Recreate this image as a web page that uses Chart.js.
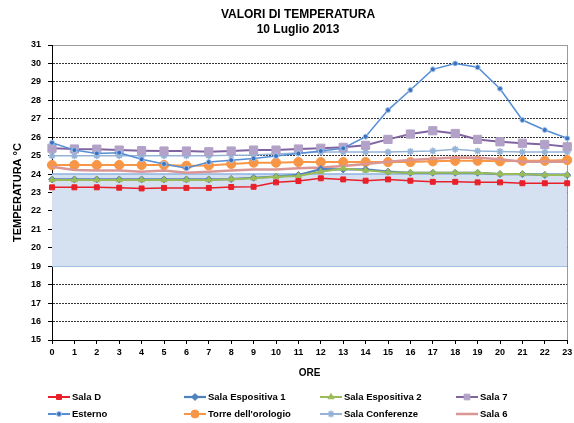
<!DOCTYPE html>
<html>
<head>
<meta charset="utf-8">
<script src="https://cdn.jsdelivr.net/npm/chart.js@4/dist/chart.umd.min.js"></script>
<style>
    html, body { margin: 0; padding: 0; background: #ffffff; }
    #wrap { width: 574px; height: 423px; }
</style>
</head>
<body>
<div id="wrap"><canvas id="tempChart" width="574" height="423"></canvas></div>
<script>
const hours = ['0','1','2','3','4','5','6','7','8','9','10','11','12','13','14','15','16','17','18','19','20','21','22','23'];

const salaD = [23.28, 23.28, 23.28, 23.26, 23.22, 23.25, 23.25, 23.25, 23.30, 23.31, 23.55, 23.62, 23.77, 23.71, 23.64, 23.71, 23.64, 23.58, 23.58, 23.55, 23.55, 23.50, 23.50, 23.50];
const salaEsp1 = [23.71, 23.71, 23.71, 23.71, 23.71, 23.71, 23.71, 23.71, 23.73, 23.80, 23.86, 23.95, 24.27, 24.25, 24.25, 24.13, 24.07, 24.07, 24.07, 24.07, 24.00, 24.00, 23.95, 23.95];
const salaEsp2 = [23.68, 23.68, 23.68, 23.68, 23.68, 23.68, 23.68, 23.68, 23.72, 23.77, 23.86, 23.90, 24.13, 24.30, 24.20, 24.10, 24.07, 24.07, 24.07, 24.07, 24.00, 24.00, 23.95, 23.95];
const sala7 = [25.40, 25.36, 25.35, 25.30, 25.27, 25.25, 25.25, 25.21, 25.25, 25.30, 25.30, 25.36, 25.40, 25.45, 25.56, 25.88, 26.17, 26.35, 26.20, 25.88, 25.75, 25.67, 25.61, 25.48];
const esterno = [25.70, 25.30, 25.12, 25.16, 24.80, 24.55, 24.31, 24.65, 24.75, 24.85, 24.98, 25.12, 25.25, 25.40, 26.03, 27.47, 28.56, 29.68, 30.00, 29.79, 28.63, 26.93, 26.39, 25.94];
const torre = [24.49, 24.49, 24.49, 24.49, 24.49, 24.49, 24.45, 24.47, 24.55, 24.62, 24.62, 24.65, 24.65, 24.65, 24.65, 24.65, 24.65, 24.69, 24.72, 24.72, 24.69, 24.72, 24.72, 24.76];
const salaConf = [25.00, 25.00, 25.00, 25.00, 25.00, 25.00, 25.00, 25.00, 25.02, 25.03, 25.09, 25.14, 25.20, 25.20, 25.20, 25.20, 25.23, 25.25, 25.34, 25.25, 25.23, 25.20, 25.20, 25.20];
const sala6 = [24.40, 24.22, 24.19, 24.19, 24.13, 24.19, 24.07, 24.13, 24.19, 24.25, 24.25, 24.31, 24.36, 24.44, 24.55, 24.67, 24.76, 24.83, 24.90, 24.88, 24.80, 24.67, 24.67, 24.67];

// fascia di comfort (19-24 °C)
const bandTop = [24, 24, 24, 24, 24, 24, 24, 24, 24, 24, 24, 24, 24, 24, 24, 24, 24, 24, 24, 24, 24, 24, 24, 24];
const bandBottom = [19, 19, 19, 19, 19, 19, 19, 19, 19, 19, 19, 19, 19, 19, 19, 19, 19, 19, 19, 19, 19, 19, 19, 19];

const yMin = 15;
const yMax = 31;
const titleLines = ['VALORI DI TEMPERATURA', '10 Luglio 2013'];

const FONT = "'Liberation Sans', Arial, sans-serif";

function serie(label, data, color, opts) {
    return Object.assign({
        label: label,
        data: data,
        borderColor: color,
        backgroundColor: color,
        pointBackgroundColor: color,
        pointBorderColor: color,
        borderWidth: 2,
        pointRadius: 3.5,
        pointBorderWidth: 1,
        tension: 0,
        fill: false,
        inLegend: true,
        order: 1
    }, opts || {});
}

const datasets = [
    serie('Sala D', salaD, '#e8202a', { pointStyle: 'rect', pointRadius: 3.5, borderWidth: 1.5, order: 2 }),
    serie('Sala Espositiva 1', salaEsp1, '#4f81bd', { pointStyle: 'rectRot', pointRadius: 3.5, borderWidth: 2.25, order: 4 }),
    serie('Sala Espositiva 2', salaEsp2, '#9bbb59', { pointStyle: 'triangle', pointRadius: 3.5, order: 3 }),
    serie('Sala 7', sala7, '#8064a2', { pointStyle: 'rect', pointRadius: 5.8, pointBackgroundColor: '#b3a2c7', pointBorderColor: '#b3a2c7', order: 5 }),
    serie('Esterno', esterno, '#558ed5', { pointStyle: 'circle', pointRadius: 2.5, borderWidth: 1.5, pointBackgroundColor: '#3a72c0', pointBorderColor: '#a8c6ea', order: 1 }),
    serie("Torre dell'orologio", torre, '#f79646', { pointStyle: 'circle', pointRadius: 4.6, order: 6 }),
    serie('Sala Conferenze', salaConf, '#95b3d7', { pointStyle: 'star', pointRadius: 3.5, borderWidth: 1.5, pointBorderWidth: 1.5, order: 7 }),
    serie('Sala 6', sala6, '#d99694', { pointRadius: 0, borderWidth: 2.5, order: 5 }),
    {
        label: 'fascia_top', data: bandTop, borderColor: '#8cb3e2', borderWidth: 1.5,
        backgroundColor: 'rgba(213, 225, 241, 1)', pointRadius: 0, fill: '+1', order: 100
    },
    {
        label: 'fascia_bottom', data: bandBottom, borderColor: '#8cb3e2', borderWidth: 1.5,
        pointRadius: 0, fill: false, order: 101
    }
];

// legenda e titolo disegnati a mano per rispettare le colonne del grafico originale
const legendCols = [48, 184, 320, 456];
const legendRows = [397, 414];

const extrasPlugin = {
    id: 'extras',
    afterDraw(chart) {
        const ctx = chart.ctx;
        ctx.save();
        ctx.fillStyle = '#000';
        ctx.textAlign = 'center';
        ctx.textBaseline = 'middle';
        ctx.font = 'bold 12px ' + FONT;
        ctx.fillText(titleLines[0], 298, 15);
        ctx.fillText(titleLines[1], 298, 30);

        let n = 0;
        chart.data.datasets.forEach(ds => {
            if (!ds.inLegend) return;
            const x0 = legendCols[n % 4];
            const y0 = legendRows[Math.floor(n / 4)];
            ctx.strokeStyle = ds.borderColor;
            ctx.lineWidth = Math.max(ds.borderWidth, 2);
            ctx.setLineDash([]);
            ctx.beginPath();
            ctx.moveTo(x0, y0);
            ctx.lineTo(x0 + 22, y0);
            ctx.stroke();
            if (ds.pointRadius > 0) {
                ctx.fillStyle = ds.pointBackgroundColor;
                ctx.strokeStyle = ds.pointBorderColor;
                ctx.lineWidth = ds.pointBorderWidth;
                Chart.helpers.drawPoint(ctx, {
                    pointStyle: ds.pointStyle,
                    radius: Math.min(ds.pointRadius, 4),
                    rotation: 0,
                    borderWidth: ds.pointBorderWidth
                }, x0 + 11, y0);
            }
            ctx.fillStyle = '#000';
            ctx.textAlign = 'left';
            ctx.font = 'bold 9.5px ' + FONT;
            ctx.fillText(ds.label, x0 + 24, y0 + 0.5);
            n++;
        });
        ctx.restore();
    }
};

new Chart(document.getElementById('tempChart').getContext('2d'), {
    type: 'line',
    data: { labels: hours, datasets: datasets },
    plugins: [extrasPlugin],
    options: {
        responsive: false,
        animation: false,
        devicePixelRatio: 1,
        layout: { padding: { left: 0, right: 5, top: 45, bottom: 41 } },
        plugins: {
            legend: { display: false },
            title: { display: false },
            tooltip: { enabled: false }
        },
        scales: {
            x: {
                offset: false,
                afterFit: s => {
                    s.height = 42;
                    s.paddingLeft = 2;
                    s.paddingRight = 2;
                },
                border: { color: '#000', width: 1 },
                grid: {
                    color: c => (c.index === hours.length - 1 ? '#9a9a9a' : 'rgba(0,0,0,0)'),
                    tickColor: '#000',
                    tickLength: 4
                },
                ticks: {
                    color: '#000',
                    padding: 3,
                    maxRotation: 0,
                    autoSkip: false,
                    font: { family: FONT, size: 9, weight: 'bold' }
                },
                title: {
                    display: true,
                    text: 'ORE',
                    color: '#000',
                    padding: { top: 0, bottom: 3 },
                    font: { family: FONT, size: 10, weight: 'bold' }
                }
            },
            y: {
                min: yMin,
                max: yMax,
                afterFit: s => { s.width = 52; },
                border: {
                    color: '#000',
                    width: 1,
                    dash: c => (c.tick && c.tick.value === yMax ? [] : [2, 1])
                },
                grid: {
                    color: c => (c.tick && c.tick.value === yMax ? '#9a9a9a' : '#333333'),
                    tickColor: '#000',
                    tickLength: 4
                },
                ticks: {
                    stepSize: 1,
                    color: '#000',
                    padding: 7,
                    font: { family: FONT, size: 9, weight: 'bold' }
                },
                title: {
                    display: true,
                    text: 'TEMPERATURA °C',
                    color: '#000',
                    padding: { top: 11, bottom: 0 },
                    font: { family: FONT, size: 11, weight: 'bold' }
                }
            }
        }
    }
});
</script>
</body>
</html>
